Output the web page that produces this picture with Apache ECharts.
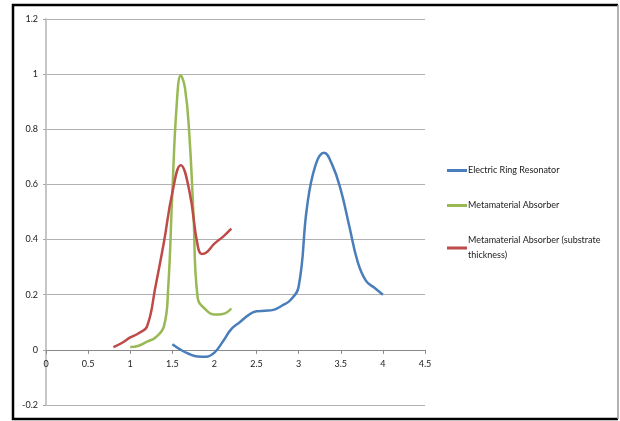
<!DOCTYPE html>
<html>
<head>
<meta charset="utf-8">
<script src="https://cdn.jsdelivr.net/npm/echarts@6/dist/echarts.min.js"></script>
<style>html,body{margin:0;padding:0;background:#fff}#c{width:620px;height:421px}</style>
</head>
<body>
<div id="c"></div>
<script>
var seriesNames = ['Electric Ring Resonator', 'Metamaterial Absorber', 'Metamaterial Absorber (substrate thickness)'];
var xTicks = [0, 0.5, 1, 1.5, 2, 2.5, 3, 3.5, 4, 4.5];
var yTicks = [-0.2, 0, 0.2, 0.4, 0.6, 0.8, 1, 1.2];

var ringX = [1.5, 1.6, 1.7, 1.8, 1.9, 2.0, 2.1, 2.2, 2.3, 2.4, 2.5, 2.6, 2.7, 2.8, 2.9, 3.0, 3.1, 3.2, 3.3, 3.4, 3.5, 3.6, 3.7, 3.8, 3.9, 4.0];
var ringY = [0.02, 0.0, -0.015, -0.024, -0.025, -0.01, 0.03, 0.075, 0.10, 0.125, 0.14, 0.142, 0.145, 0.16, 0.18, 0.23, 0.52, 0.67, 0.715, 0.67, 0.58, 0.45, 0.32, 0.25, 0.225, 0.2];

var absX = [1.0, 1.1, 1.2, 1.3, 1.4, 1.45, 1.5, 1.55, 1.6, 1.65, 1.7, 1.75, 1.8, 1.9, 2.0, 2.1, 2.2];
var absY = [0.01, 0.015, 0.03, 0.045, 0.085, 0.22, 0.57, 0.88, 0.995, 0.95, 0.79, 0.5, 0.19, 0.145, 0.128, 0.13, 0.15];

var subX = [0.8, 0.9, 1.0, 1.1, 1.2, 1.3, 1.4, 1.5, 1.6, 1.7, 1.8, 1.85, 1.9, 2.0, 2.1, 2.2];
var subY = [0.01, 0.025, 0.045, 0.06, 0.085, 0.23, 0.39, 0.57, 0.67, 0.58, 0.38, 0.348, 0.352, 0.385, 0.41, 0.44];

function pairs(xs, ys) { return xs.map(function (x, i) { return [x, ys[i]]; }); }

var colors = ['#4A7EBB', '#98B954', '#BE4B48'];
var font = 'Lato, "Open Sans", sans-serif';

var W = 620, H = 421;
var gridTop = 19, gridBottom = 16;
var yMin = yTicks[0], yMax = yTicks[yTicks.length - 1];
var xAxisOffset = -((0 - yMin) / (yMax - yMin)) * (H - gridTop - gridBottom);

var chart = echarts.init(document.getElementById('c'), null, { renderer: 'canvas' });

function legendFor(i, top, extra) {
  var l = {
    data: [seriesNames[i]],
    left: 447, top: top, padding: 0,
    itemWidth: 20, itemHeight: 3, itemGap: 0,
    icon: 'rect',
    selectedMode: false,
    textStyle: { fontFamily: font, fontSize: 9, color: '#1a1a1a', padding: [0, 0, 0, -4], lineHeight: 15 }
  };
  if (extra) l.formatter = extra;
  return l;
}

chart.setOption({
  animation: false,
  color: colors,
  grid: { left: 46, right: 195, top: gridTop, bottom: gridBottom },
  graphic: [
    { type: 'polyline', shape: { points: [[618, 5], [13, 5], [13, 419], [618, 419]] }, style: { stroke: '#000', lineWidth: 2.5, fill: null } },
    { type: 'line', shape: { x1: 618, y1: 5, x2: 618, y2: 419 }, style: { stroke: '#9a9a9a', lineWidth: 1.5 } }
  ],
  legend: [
    legendFor(0, 163),
    legendFor(1, 198),
    legendFor(2, 233, function (n) { return 'Metamaterial Absorber (substrate\nthickness)'; })
  ],
  xAxis: {
    type: 'value', min: xTicks[0], max: xTicks[xTicks.length - 1], interval: 0.5,
    position: 'bottom', offset: xAxisOffset,
    axisLine: { onZero: false, lineStyle: { color: '#8a8a8a', width: 1 } },
    axisTick: { show: true, length: 4, lineStyle: { color: '#8a8a8a' } },
    axisLabel: { fontFamily: font, fontSize: 9, color: '#1a1a1a', margin: 10 },
    splitLine: { show: false }
  },
  yAxis: {
    type: 'value', min: yMin, max: yMax, interval: 0.2,
    axisLine: { show: true, onZero: false, lineStyle: { color: '#c6c6c6', width: 2 } },
    axisTick: { show: true, length: 3, lineStyle: { color: '#a8a8a8' } },
    axisLabel: { fontFamily: font, fontSize: 9, color: '#1a1a1a', margin: 8 },
    splitLine: { show: true, lineStyle: { color: '#b0b0b0', width: 1 } }
  },
  series: [
    { name: seriesNames[0], type: 'line', data: pairs(ringX, ringY), smooth: 0.45, showSymbol: false, lineStyle: { width: 2.5 } },
    { name: seriesNames[1], type: 'line', data: pairs(absX, absY), smooth: 0.45, showSymbol: false, lineStyle: { width: 2.5 } },
    { name: seriesNames[2], type: 'line', data: pairs(subX, subY), smooth: 0.45, showSymbol: false, lineStyle: { width: 2.5 } }
  ]
});
</script>
</body>
</html>
